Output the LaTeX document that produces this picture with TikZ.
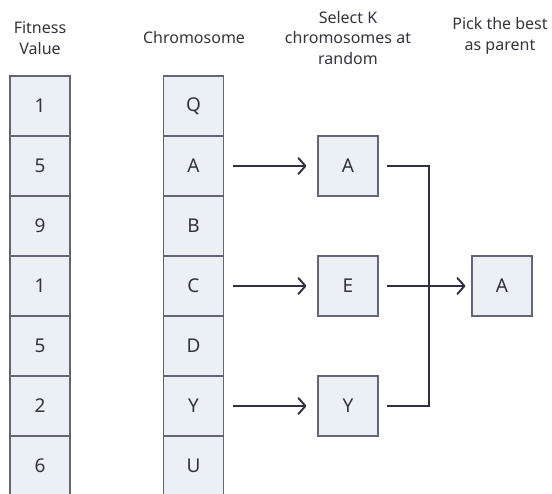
\documentclass[tikz,border=0pt]{standalone}
\usepackage{fontspec}
\setmainfont{Noto Sans}
\usetikzlibrary{arrows.meta}
\definecolor{cellfill}{HTML}{EAF0F3}
\definecolor{celledge}{HTML}{646476}
\definecolor{linkcol}{HTML}{2E2E45}
\definecolor{txt}{HTML}{34343E}
\tikzset{
  cell/.style={draw=celledge, fill=cellfill, line width=1.3pt, minimum width=60pt,
    minimum height=60pt, inner sep=0pt, text=txt, font=\fontsize{19}{19}\selectfont},
  heading/.style={align=center, text=txt, font=\fontsize{16}{20.5}\selectfont, inner sep=0pt},
  link/.style={draw=linkcol, line width=1.9pt},
  flow/.style={link, -{Straight Barb[length=7pt, width=16pt, line width=1.9pt, round]}}
}
\begin{document}
\begin{tikzpicture}[x=1pt, y=-1pt]
  \useasboundingbox (0,0) rectangle (552,494);
  \begin{scope}
  \clip (0,0) rectangle (552,494);
  % headings
  \node[heading] (hfit) at (40,38) {Fitness\\Value};
  \node[heading] (hchr) at (194,38) {Chromosome};
  \node[heading] (hsel) at (348,38) {Select K\\chromosomes at\\random};
  \node[heading] (hpick) at (500,36) {Pick the best\\as parent};
  % fitness values and chromosomes
  \foreach \v/\c [count=\i from 0] in {1/Q,5/A,9/B,1/C,5/D,2/Y,6/U} {
    \node[cell] (f\i) at (40,106+60*\i) {\v};
    \node[cell] (c\i) at (193.5,106+60*\i) {\c};
  }
  % sampled chromosomes
  \node[cell] (sA) at (348,166) {A};
  \node[cell] (sE) at (348,286) {E};
  \node[cell] (sY) at (348,406) {Y};
  % chosen parent
  \node[cell] (best) at (502,286) {A};
  % selection arrows
  \draw[flow] ([xshift=9pt]c1.east) -- ([xshift=-11pt]sA.west);
  \draw[flow] ([xshift=9pt]c3.east) -- ([xshift=-11pt]sE.west);
  \draw[flow] ([xshift=9pt]c5.east) -- ([xshift=-11pt]sY.west);
  % tournament bracket
  \coordinate (jt) at (429,166);
  \coordinate (jb) at (429,406);
  \draw[link] ([xshift=8pt]sA.east) -- (jt) -- (jb) -- ([xshift=8pt]sY.east);
  \draw[flow] ([xshift=8pt]sE.east) -- ([xshift=-6pt]best.west);
  \end{scope}
\end{tikzpicture}
\end{document}
